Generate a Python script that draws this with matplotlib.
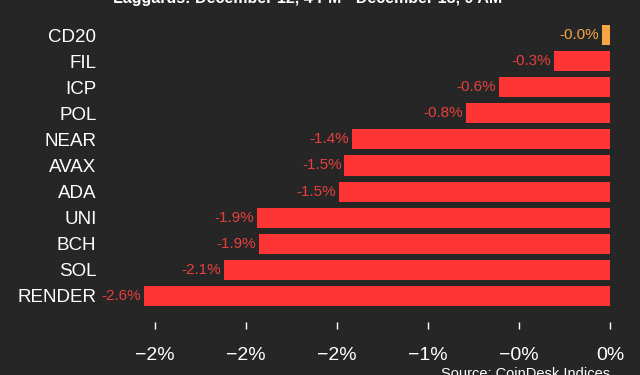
import matplotlib
matplotlib.use("Agg")
import matplotlib.pyplot as plt
from matplotlib.ticker import FuncFormatter

# ----------------------------------------------
# Data
# ----------------------------------------------
coins = ["CD20", "FIL", "ICP", "POL", "NEAR", "AVAX", "ADA", "UNI", "BCH", "SOL", "RENDER"]
changes = [-0.045, -0.31, -0.61, -0.79, -1.42, -1.46, -1.49, -1.94, -1.93, -2.12, -2.56]
x_ticks = [-2.5, -2.0, -1.5, -1.0, -0.5, 0.0]

title = "Laggards: December 12, 4 PM - December 13, 9 AM"
source = "Source: CoinDesk Indices"

BG = "#262626"
RED = "#ff3535"
RED_TXT = "#e5403d"
ORANGE = "#f6a445"

plt.rcParams["font.family"] = ["Liberation Sans", "DejaVu Sans"]

fig = plt.figure(figsize=(6.4, 3.75), dpi=100, facecolor=BG)
ax = fig.add_axes([102 / 640, 1 - 322 / 375, (620 - 102) / 640, (322 - 20) / 375])
ax.set_facecolor(BG)

ypos = list(range(len(coins)))
colors = [ORANGE if v > -0.1 else RED for v in changes]
bars = ax.barh(ypos, changes, height=0.77, color=colors)

# value labels just left of each bar
for y, v, c in zip(ypos, changes, colors):
    txt_col = ORANGE if c == ORANGE else RED_TXT
    ax.annotate(f"{v:.1f}%", xy=(v, y), xytext=(-2, 0), textcoords="offset points",
                ha="right", va="center", fontsize=11, color=txt_col)

ax.set_xlim(-(610 - 102) / 182, (620 - 610) / 182)
ax.set_ylim(11.0, -0.575)
ax.set_yticks(ypos)
ax.set_yticklabels(coins)
ax.set_xticks(x_ticks)
ax.xaxis.set_major_formatter(FuncFormatter(lambda v, p: f"{v:.0f}%".replace("-", "\u2212")))

for s in ax.spines.values():
    s.set_visible(False)
ax.tick_params(axis="y", length=0, pad=4, labelsize=13.5, colors="white")
ax.tick_params(axis="x", length=5, width=1, pad=13, labelsize=14, colors="white")

# title and source sit partly outside the canvas, as in the original
fig.text(308 / 640, 1 - 3 / 375, title, ha="center", va="baseline",
         fontsize=11.5, fontweight="bold", color="white")
fig.text(610 / 640, 1 - 378 / 375, source, ha="right", va="baseline",
         fontsize=10.5, color="white")

fig.savefig("out.png", dpi=100, facecolor=BG)
